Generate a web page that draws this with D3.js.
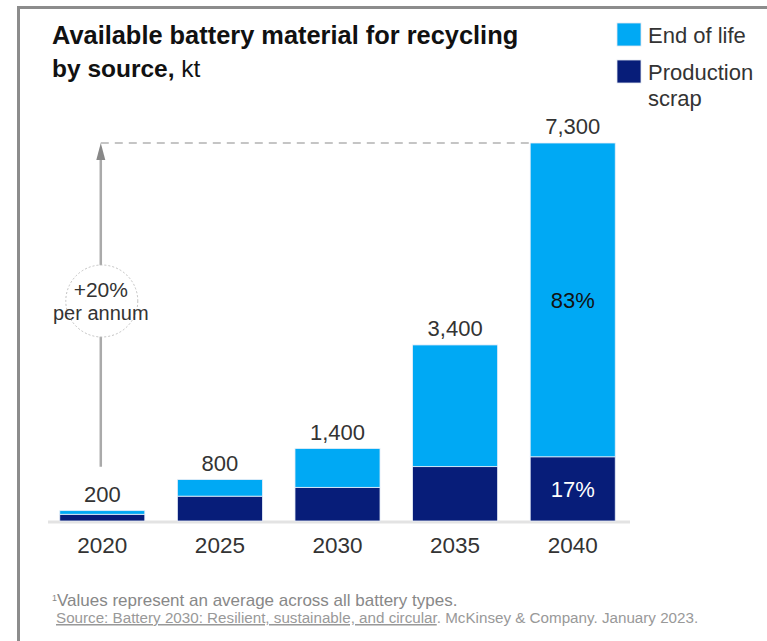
<!DOCTYPE html>
<html>
<head>
<meta charset="utf-8">
<script src="https://cdn.jsdelivr.net/npm/d3@7"></script>
<style>
  body { margin: 0; background: #fff; }
  svg text { font-family: "Liberation Sans", Arial, sans-serif; }
</style>
</head>
<body>
<div id="chart"></div>
<script>
// Data (kt)
const years = ['2020', '2025', '2030', '2035', '2040'];
const endOfLife = [70, 320, 750, 2350, 6060];
const productionScrap = [130, 480, 650, 1050, 1240];
const totalLabels = ['200', '800', '1,400', '3,400', '7,300'];
const shareLabels2040 = ['83%', '17%']; // end of life, production scrap
const legendLabels = [['End of life'], ['Production', 'scrap']];

const W = 767, H = 641;
const colors = { eol: '#00a9f4', scrap: '#071d79' };

const svg = d3.select('#chart')
    .append('svg')
    .attr('width', W)
    .attr('height', H);

// Frame
svg.append('path')
    .attr('d', `M18.5,${H} V7.5 H${W}`)
    .attr('fill', 'none')
    .attr('stroke', '#8c8c8c')
    .attr('stroke-width', 3);

// Stack the two series
const rows = years.map((yr, i) => ({ year: yr, scrap: productionScrap[i], eol: endOfLife[i] }));
const stack = d3.stack().keys(['scrap', 'eol'])(rows);
const totals = rows.map(d => d.scrap + d.eol);

// Scales
const x = d3.scaleBand()
    .domain(years)
    .range([42.6, 632.4])
    .paddingInner(0.277)
    .paddingOuter(0.146);

const y = d3.scaleLinear()
    .domain([0, 7300])
    .range([521, 143]);

// Baseline
svg.append('line')
    .attr('x1', 48).attr('x2', 630)
    .attr('y1', y(0) + 1).attr('y2', y(0) + 1)
    .attr('stroke', '#e3e3e3')
    .attr('stroke-width', 3);

// Bars
svg.selectAll('.layer')
    .data(stack)
    .enter()
    .append('g')
    .attr('class', 'layer')
    .attr('fill', d => colors[d.key])
    .selectAll('rect')
    .data(d => d)
    .enter()
    .append('rect')
    .attr('x', d => x(d.data.year))
    .attr('y', d => y(d[1]))
    .attr('width', x.bandwidth())
    .attr('height', d => y(d[0]) - y(d[1]))
    .attr('stroke', '#e8eef8')
    .attr('stroke-width', 0.8);

// Total labels
svg.selectAll('.total')
    .data(years)
    .enter()
    .append('text')
    .attr('class', 'total')
    .attr('x', d => x(d) + x.bandwidth() / 2)
    .attr('y', (d, i) => y(totals[i]) - 9)
    .attr('text-anchor', 'middle')
    .attr('fill', '#333')
    .style('font-size', '22px')
    .text((d, i) => totalLabels[i]);

// Shares inside the 2040 bar
const last = years.length - 1;
const cx2040 = x(years[last]) + x.bandwidth() / 2;
[stack[1][last], stack[0][last]].forEach((seg, i) => {
    svg.append('text')
        .attr('x', cx2040)
        .attr('y', (y(seg[0]) + y(seg[1])) / 2)
        .attr('dy', '0.36em')
        .attr('text-anchor', 'middle')
        .attr('fill', i === 0 ? '#111' : '#fff')
        .style('font-size', '22px')
        .text(shareLabels2040[i]);
});

// Year axis
svg.append('g')
    .attr('transform', `translate(0,${y(0)})`)
    .call(d3.axisBottom(x).tickSize(0).tickPadding(16))
    .call(g => g.select('.domain').remove())
    .selectAll('text')
    .attr('fill', '#333')
    .style('font-size', '22.5px');

// Growth arrow with dashed guide to the 2040 total
const ax = x(years[0]) + x.bandwidth() / 2 - 1.5;
const topY = y(totals[last]);
svg.append('line')
    .attr('x1', ax).attr('x2', x(years[last]))
    .attr('y1', topY).attr('y2', topY)
    .attr('stroke', '#b3b3b3')
    .attr('stroke-width', 1.5)
    .attr('stroke-dasharray', '8,6');

svg.append('line')
    .attr('x1', ax).attr('x2', ax)
    .attr('y1', y(totals[0]) - 44).attr('y2', topY + 12)
    .attr('stroke', '#aaa')
    .attr('stroke-width', 2.5);

svg.append('path')
    .attr('d', `M${ax},${topY} L${ax - 4.5},${topY + 17} L${ax + 4.5},${topY + 17} Z`)
    .attr('fill', '#888');

const cy = 301;
svg.append('circle')
    .attr('cx', ax + 1).attr('cy', cy).attr('r', 36)
    .attr('fill', '#fff')
    .attr('stroke', '#bbb')
    .attr('stroke-width', 0.9)
    .attr('stroke-dasharray', '2,2');

svg.append('text')
    .attr('x', ax).attr('y', cy - 4)
    .attr('text-anchor', 'middle')
    .attr('fill', '#333')
    .style('font-size', '21px')
    .text('+20%');

svg.append('text')
    .attr('x', ax).attr('y', cy + 19)
    .attr('text-anchor', 'middle')
    .attr('fill', '#333')
    .style('font-size', '20px')
    .text('per annum');

// Title
const title = svg.append('text')
    .attr('x', 52).attr('y', 44)
    .attr('fill', '#111')
    .style('font-size', '25.4px')
    .style('font-weight', 'bold');
title.append('tspan').text('Available battery material for recycling');
const t2 = svg.append('text')
    .attr('x', 52).attr('y', 77)
    .attr('fill', '#111')
    .style('font-size', '24.5px');
t2.append('tspan').style('font-weight', 'bold').text('by source,');
t2.append('tspan').text(' kt');

// Legend
const legend = svg.selectAll('.legend')
    .data(['eol', 'scrap'])
    .enter()
    .append('g')
    .attr('class', 'legend')
    .attr('transform', (d, i) => `translate(617,${23 + i * 37})`);

legend.append('rect')
    .attr('width', 24).attr('height', 23)
    .attr('fill', d => colors[d])
    .attr('stroke', '#e0e6ef')
    .attr('stroke-width', 0.8);

legend.append('text')
    .attr('x', 31).attr('y', 20)
    .attr('fill', '#333')
    .style('font-size', '22px')
    .selectAll('tspan')
    .data((d, i) => legendLabels[i])
    .enter()
    .append('tspan')
    .attr('x', 31)
    .attr('dy', (d, i) => i ? 26 : 0)
    .text(d => d);

// Footnotes
svg.append('text')
    .attr('x', 52).attr('y', 606)
    .attr('fill', '#888')
    .style('font-size', '17px')
    .html('<tspan baseline-shift="super" style="font-size:9px">1</tspan>Values represent an average across all battery types.');

const src = svg.append('text')
    .attr('x', 56).attr('y', 623)
    .attr('fill', '#999')
    .style('font-size', '15.2px');
src.append('tspan')
    .style('text-decoration', 'underline')
    .text('Source: Battery 2030: Resilient, sustainable, and circular');
src.append('tspan').text('. McKinsey & Company. January 2023.');
</script>
</body>
</html>
